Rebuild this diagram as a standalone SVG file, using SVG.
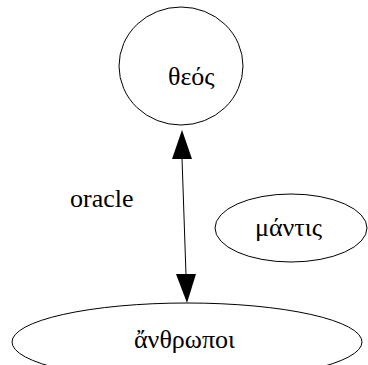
<svg xmlns="http://www.w3.org/2000/svg" width="368" height="365" viewBox="0 0 368 365">
<style>
.n{fill:none;stroke:#000;stroke-width:1}
.t{font-family:"Liberation Serif","Times New Roman","DejaVu Serif",serif;font-size:26px;fill:#000}
.e{stroke:#000;stroke-width:1;fill:none}
.h{fill:#000;stroke:none}
</style>
<rect width="368" height="365" fill="#fff"/>
<g id="connectors">
<line class="e" x1="182" y1="158" x2="186" y2="275"/>
<path class="h" d="M182,130 L172,159 L192,159 Z"/>
<path class="h" d="M187,303 L176,274 L196,274 Z"/>
<text class="t" x="70" y="207">oracle</text>
</g>
<g id="theos">
<ellipse class="n" cx="181" cy="66" rx="62" ry="59"/>
<text class="t" x="168" y="85">θεός</text>
</g>
<g id="mantis">
<ellipse class="n" cx="291" cy="228" rx="76" ry="34"/>
<text class="t" x="255" y="236">μάντις</text>
</g>
<g id="anthropoi">
<ellipse class="n" cx="187" cy="342" rx="175" ry="39"/>
<text class="t" x="134" y="348">ἄνθρωποι</text>
</g>
</svg>
